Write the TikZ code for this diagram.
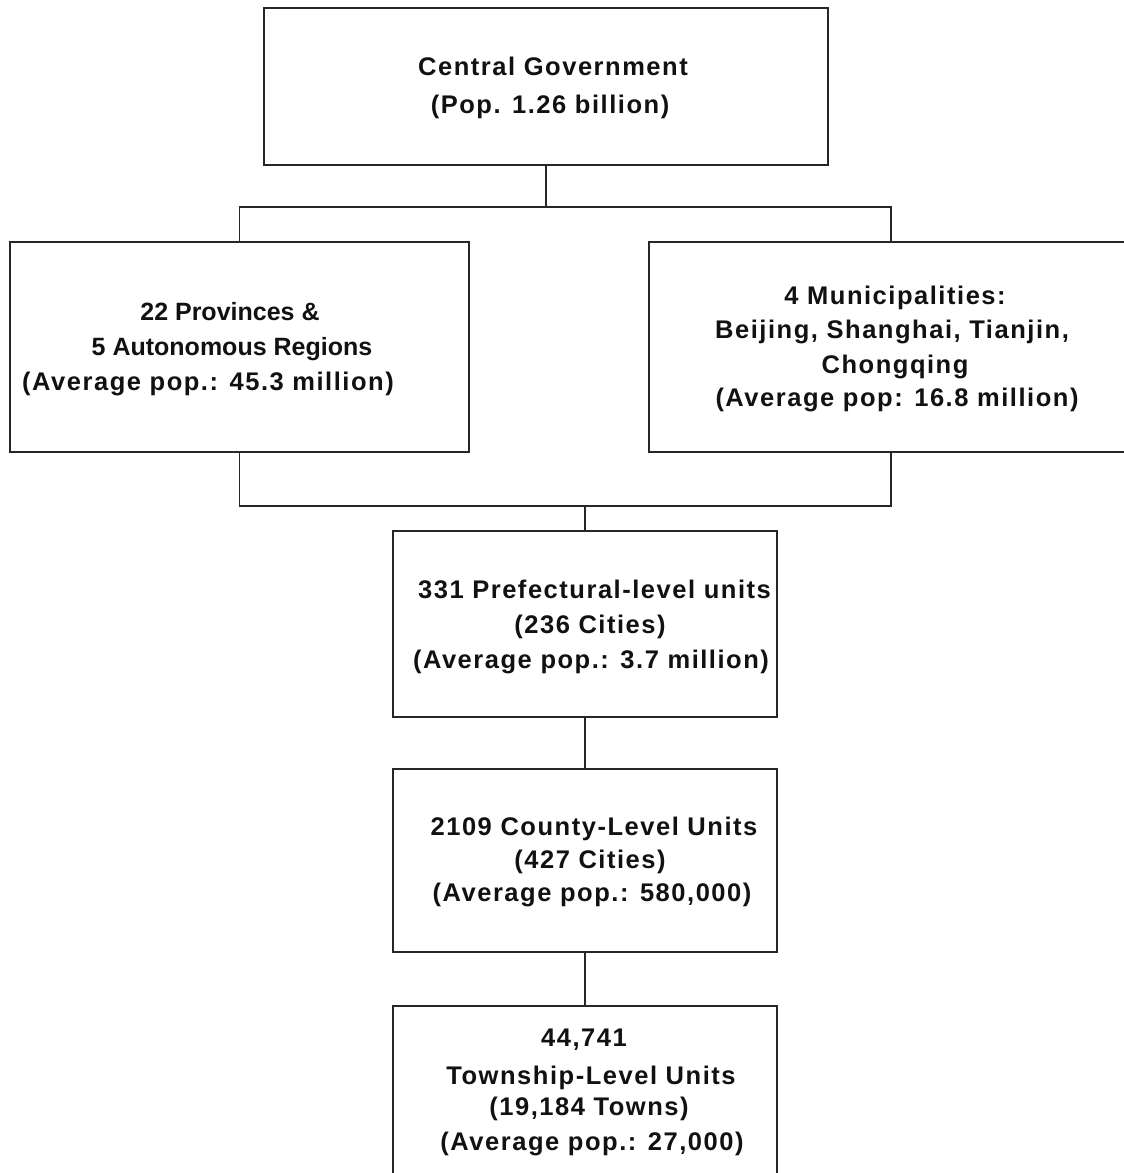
\documentclass[tikz,border=0pt]{standalone}
\usepackage{fontspec}
\setmainfont{Liberation Sans}
\newfontfamily\trackfont{Liberation Sans}[LetterSpace=6]
\definecolor{linec}{HTML}{262626}
\definecolor{txt}{HTML}{111111}
\tikzset{
  box/.style={draw=linec, line width=1.8pt, inner sep=0pt, fill=white},
  conn/.style={draw=linec, line width=1.8pt},
  lbl/.style={anchor=base, inner sep=0pt, text=txt, font=\trackfont\bfseries\fontsize{25.5}{30}\selectfont},
  lbln/.style={anchor=base, inner sep=0pt, text=txt, font=\normalfont\bfseries\fontsize{25}{30}\selectfont}
}
\begin{document}
\begin{tikzpicture}[x=1pt, y=-1pt]
\useasboundingbox (0,0) rectangle (1124,1173);
\clip (0,0) rectangle (1124,1173);
\fill[white] (0,0) rectangle (1124,1173);

% junction coordinates
\coordinate (j1) at (546,207);
\coordinate (j2) at (585,506);

% boxes
\node[box, minimum width=564pt, minimum height=157pt] (cg) at (546,86.5) {};
\node[box, minimum width=459pt, minimum height=210pt] (lp) at (239.5,347) {};
\node[box, minimum width=484pt, minimum height=210pt] (rm) at (891,347) {};
\node[box, minimum width=384pt, minimum height=186pt] (pf) at (585,624) {};
\node[box, minimum width=384pt, minimum height=183pt] (ct) at (585,860.5) {};
\node[box, minimum width=384pt, minimum height=190pt] (tw) at (585,1101) {};

% connectors
\draw[conn] (cg.south) -- (j1);
\draw[conn] (lp.north) |- (j1) -| (rm.north);
\draw[conn] (lp.south) |- (j2) -| (rm.south);
\draw[conn] (j2) -- (pf.north);
\draw[conn] (pf.south) -- (ct.north);
\draw[conn] (ct.south) -- (tw.north);

% labels: central
\node[lbl] (cg1) at (553,75) {Central Government};
\node[lbl] (cg2) at (550,113.5) {(Pop. 1.26 billion)};
% left
\node[lbln] (lp1) at (230,320) {22 Provinces \&};
\node[lbln] (lp2) at (232,355.7) {5 Autonomous Regions};
\node[lbl] (lp3) at (208,390.7) {(Average pop.: 45.3 million)};
% right
\node[lbl] (rm1) at (895,304) {4 Municipalities:};
\node[lbl] (rm2) at (892,338.3) {Beijing, Shanghai, Tianjin,};
\node[lbl] (rm3) at (895,373.3) {Chongqing};
\node[lbl] (rm4) at (897,406.7) {(Average pop: 16.8 million)};
% prefectural
\node[lbl] (pf1) at (594.5,598.3) {331 Prefectural-level units};
\node[lbl] (pf2) at (590,633.3) {(236 Cities)};
\node[lbl] (pf3) at (591,668.3) {(Average pop.: 3.7 million)};
% county
\node[lbl] (ct1) at (594,835) {2109 County-Level Units};
\node[lbl] (ct2) at (590,868.3) {(427 Cities)};
\node[lbl] (ct3) at (592,901.7) {(Average pop.: 580,000)};
% township
\node[lbl] (tw1) at (584,1046.7) {44,741};
\node[lbl] (tw2) at (591,1084) {Township-Level Units};
\node[lbl] (tw3) at (589,1115.7) {(19,184 Towns)};
\node[lbl] (tw4) at (592,1150) {(Average pop.: 27,000)};
\end{tikzpicture}
\end{document}
